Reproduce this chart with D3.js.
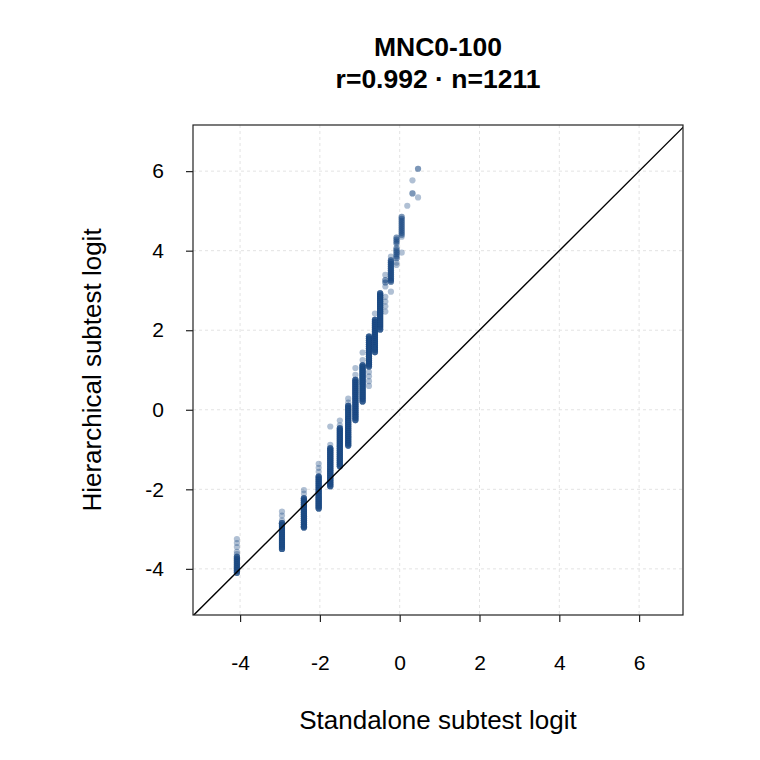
<!DOCTYPE html>
<head>
  <meta charset="utf-8">
  <script src="https://d3js.org/d3.v7.min.js"></script>
  <style>
    body { margin: 0; background: #fff; }
    svg { width: 760px; height: 760px; font-family: "Liberation Sans", Arial, Helvetica, sans-serif; }
    .grid line { stroke: #e3e3e3; stroke-width: 1; stroke-dasharray: 3,3; }
    .axis text { font-size: 21px; fill: #000; }
    .axis line { stroke: #222; stroke-width: 1.2; }
  </style>
</head>

<body>
  <svg></svg>
  <script>
    var titleLines = ['MNC0-100', 'r=0.992 \u00b7 n=1211'];
    var xLabel = 'Standalone subtest logit';
    var yLabel = 'Hierarchical subtest logit';
    var xTicks = [-4, -2, 0, 2, 4, 6];
    var yTicks = [-4, -2, 0, 2, 4, 6];

    // standalone logit of each column of points
    var columnX = [-4.08, -2.95, -2.40, -2.03, -1.74, -1.50, -1.29, -1.11, -0.93, -0.77,
                   -0.62, -0.49, -0.36, -0.22, -0.08, 0.05, 0.19, 0.32, 0.46];
    // hierarchical logits that occur many times in each column
    var denseY = [
      [-3.70, -3.75, -3.80, -3.85, -3.90, -3.95, -4.00, -4.05, -4.10],
      [-2.85, -2.90, -2.95, -3.00, -3.05, -3.10, -3.15, -3.20, -3.25, -3.30, -3.35, -3.40, -3.45, -3.50],
      [-2.23, -2.28, -2.33, -2.38, -2.43, -2.48, -2.53, -2.58, -2.63, -2.68, -2.73, -2.78, -2.83, -2.88, -2.93, -2.96],
      [-1.68, -1.73, -1.78, -1.83, -1.88, -1.93, -1.98, -2.03, -2.08, -2.13, -2.18, -2.23, -2.28, -2.33, -2.38, -2.43, -2.48],
      [-0.97, -1.02, -1.07, -1.12, -1.17, -1.22, -1.27, -1.32, -1.37, -1.42, -1.47, -1.52, -1.57, -1.62, -1.67, -1.72, -1.77, -1.82, -1.87, -1.92],
      [-0.47, -0.52, -0.57, -0.62, -0.67, -0.72, -0.77, -0.82, -0.87, -0.92, -0.97, -1.02, -1.07, -1.12, -1.17, -1.22, -1.27, -1.32, -1.37, -1.42],
      [0.10, 0.05, 0.00, -0.05, -0.10, -0.15, -0.20, -0.25, -0.30, -0.35, -0.40, -0.45, -0.50, -0.55, -0.60, -0.65, -0.70, -0.75, -0.80, -0.85, -0.90],
      [0.75, 0.70, 0.65, 0.60, 0.55, 0.50, 0.45, 0.40, 0.35, 0.30, 0.25, 0.20, 0.15, 0.10, 0.05, 0.00, -0.05, -0.10, -0.15, -0.20, -0.26],
      [1.12, 1.07, 1.02, 0.97, 0.92, 0.87, 0.82, 0.77, 0.72, 0.67, 0.62, 0.57, 0.52, 0.47, 0.42, 0.37, 0.32, 0.27, 0.21],
      [1.84, 1.79, 1.74, 1.69, 1.64, 1.59, 1.54, 1.49, 1.44, 1.39, 1.34, 1.29, 1.24, 1.19, 1.14, 1.09],
      [2.26, 2.21, 2.16, 2.11, 2.06, 2.01, 1.96, 1.91, 1.86, 1.81, 1.76, 1.71, 1.66, 1.61, 1.56, 1.51, 1.45],
      [2.93, 2.88, 2.83, 2.78, 2.73, 2.68, 2.63, 2.58, 2.53, 2.48, 2.43, 2.38, 2.33, 2.28, 2.23, 2.18, 2.13, 2.08, 2.02],
      [3.26, 3.20],
      [3.76, 3.71, 3.66, 3.61, 3.56, 3.51, 3.46, 3.41, 3.36, 3.31, 3.26, 3.22],
      [4.33, 4.28, 4.23, 4.18, 4.06, 4.01, 3.96, 3.91, 3.86, 3.81],
      [4.85, 4.80, 4.75, 4.70, 4.65, 4.60, 4.55, 4.50, 4.45, 4.40],
      [],
      [5.44],
      [6.06]
    ];
    // how many students share each dense value, per column
    var denseCount = [4, 5, 5, 5, 5, 5, 5, 5, 5, 5, 5, 5, 2, 3, 2, 2, 0, 2, 2];
    // single students
    var sparseY = [
      [-3.25, -3.35, -3.45, -3.57, -3.63],
      [-2.56, -2.66, -2.78],
      [-2.02, -2.11],
      [-1.36, -1.46, -1.56],
      [-0.42, -0.88],
      [-0.27, -0.39],
      [0.28, 0.18],
      [1.05, 0.88],
      [1.44, 1.25],
      [0.95, 0.84, 0.72, 0.60],
      [2.42],
      [],
      [3.39, 3.10, 2.84, 2.72, 2.60, 2.47],
      [3.85, 2.97],
      [3.70, 3.64],
      [3.95, 4.35],
      [5.13],
      [5.77],
      [5.34]
    ];

    var plot = {left: 193, right: 683, top: 125, bottom: 615};
    var svg = d3.select('svg');

    var x = d3.scaleLinear().domain([-5.18, 7.10]).range([plot.left, plot.right]);
    var y = d3.scaleLinear().domain([-5.16, 7.16]).range([plot.bottom, plot.top]);

    // flatten columns into one point per student
    var points = [];
    columnX.forEach(function(cx, i) {
      denseY[i].forEach(function(v) {
        for (var k = 0; k < denseCount[i]; k++) points.push({x: cx, y: v});
      });
      sparseY[i].forEach(function(v) { points.push({x: cx, y: v}); });
    });

    svg.append('defs').append('clipPath')
      .attr('id', 'plotClip')
      .append('rect')
      .attr('x', plot.left).attr('y', plot.top)
      .attr('width', plot.right - plot.left)
      .attr('height', plot.bottom - plot.top);

    // dashed grid
    var grid = svg.append('g').attr('class', 'grid');
    grid.selectAll('line.gx').data(xTicks).enter().append('line')
      .attr('x1', function(d) { return x(d); }).attr('x2', function(d) { return x(d); })
      .attr('y1', plot.top).attr('y2', plot.bottom);
    grid.selectAll('line.gy').data(yTicks).enter().append('line')
      .attr('y1', function(d) { return y(d); }).attr('y2', function(d) { return y(d); })
      .attr('x1', plot.left).attr('x2', plot.right);

    var inner = svg.append('g').attr('clip-path', 'url(#plotClip)');

    inner.selectAll('circle')
      .data(points).enter().append('circle')
      .attr('cx', function(d) { return x(d.x); })
      .attr('cy', function(d) { return y(d.y); })
      .attr('r', 3.1)
      .attr('fill', '#1d4a85')
      .attr('fill-opacity', 0.35);

    // identity line
    inner.append('line')
      .attr('x1', x(-6)).attr('y1', y(-6))
      .attr('x2', x(8)).attr('y2', y(8))
      .attr('stroke', '#000')
      .attr('stroke-width', 1.4);

    svg.append('rect')
      .attr('x', plot.left).attr('y', plot.top)
      .attr('width', plot.right - plot.left)
      .attr('height', plot.bottom - plot.top)
      .attr('fill', 'none')
      .attr('stroke', '#222')
      .attr('stroke-width', 1.2);

    var xAxis = svg.append('g')
      .attr('class', 'axis')
      .attr('transform', 'translate(0,' + plot.bottom + ')')
      .call(d3.axisBottom(x).tickValues(xTicks).tickSize(7).tickPadding(33).tickFormat(d3.format('d')));
    xAxis.select('.domain').remove();
    xAxis.selectAll('text').attr('font-family', null).attr('font-size', null);

    var yAxis = svg.append('g')
      .attr('class', 'axis')
      .attr('transform', 'translate(' + plot.left + ',0)')
      .call(d3.axisLeft(y).tickValues(yTicks).tickSize(7).tickPadding(22).tickFormat(d3.format('d')));
    yAxis.select('.domain').remove();
    yAxis.selectAll('text').attr('font-family', null).attr('font-size', null);

    // d3 uses a unicode minus; R prints a hyphen
    svg.selectAll('.axis text').text(function(d) { return String(d); });

    svg.selectAll('text.title')
      .data(titleLines).enter().append('text')
      .attr('class', 'title')
      .attr('x', (plot.left + plot.right) / 2)
      .attr('y', function(d, i) { return 56 + i * 32; })
      .attr('text-anchor', 'middle')
      .attr('font-weight', 'bold')
      .attr('font-size', 26.5)
      .text(function(d) { return d; });

    svg.append('text')
      .attr('x', (plot.left + plot.right) / 2)
      .attr('y', 729)
      .attr('text-anchor', 'middle')
      .attr('font-size', 26)
      .text(xLabel);

    svg.append('text')
      .attr('transform', 'translate(101,' + ((plot.top + plot.bottom) / 2) + ')rotate(-90)')
      .attr('text-anchor', 'middle')
      .attr('font-size', 26)
      .text(yLabel);
  </script>
</body>
